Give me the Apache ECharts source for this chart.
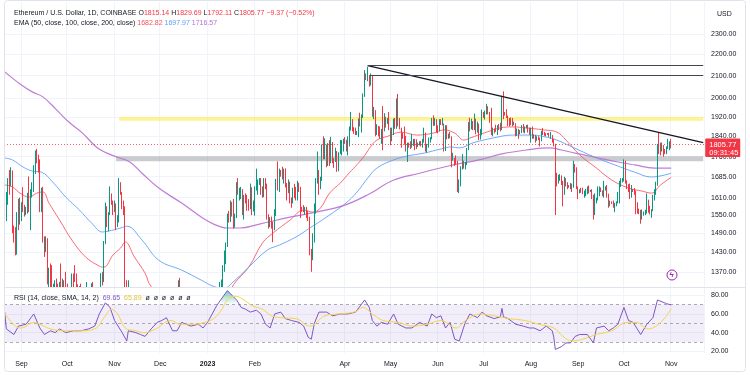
<!DOCTYPE html>
<html><head><meta charset="utf-8">
<script src="https://cdn.jsdelivr.net/npm/echarts@6/dist/echarts.min.js"></script>
<style>html,body{margin:0;padding:0;background:#fff}#c{width:750px;height:375px}</style>
</head><body><div id="c"></div>
<script>
// ---------- DATA ----------
const startDate = '2022-08-21';
const padDays = 21; // empty days to the right of the last candle
// daily candles [open, close, low, high] from 2022-08-21
const ohlc = [
[1577,1620,1560,1650],[1620,1624,1530,1630],[1624,1660,1585,1680],[1660,1657,1620,1710],[1657,1697,1650,1720],[1697,1507,1490,1708],[1507,1490,1460,1515],[1490,1425,1420,1510],[1425,1553,1422,1560],[1553,1524,1500,1606],[1524,1554,1518,1610],
[1554,1586,1530,1594],[1586,1577,1560,1647],[1577,1556,1545,1585],[1556,1577,1550,1578],[1577,1617,1555,1627],[1617,1562,1560,1686],[1562,1629,1500,1640],[1629,1636,1610,1665],[1636,1719,1630,1728],[1719,1775,1695,1784],
[1775,1761,1735,1790],[1761,1715,1700,1768],[1715,1573,1560,1750],[1573,1636,1560,1645],[1636,1472,1460,1648],[1472,1432,1415,1480],[1432,1471,1430,1480],[1471,1336,1333,1474],[1336,1377,1280,1382],[1377,1324,1320,1395],
[1324,1252,1220,1390],[1252,1328,1245,1335],[1328,1329,1275,1345],[1329,1316,1310,1350],[1316,1294,1280,1335],[1294,1336,1285,1340],[1336,1330,1310,1395],[1330,1337,1270,1350],[1337,1335,1300,1345],[1335,1328,1320,1370],
[1328,1311,1305,1335],[1311,1276,1270,1320],[1276,1323,1270,1324],[1323,1362,1320,1365],[1362,1352,1325,1365],[1352,1351,1340,1390],[1351,1330,1320,1365],[1330,1315,1310,1333],[1315,1322,1310,1328],[1322,1292,1280,1335],
[1292,1280,1270,1300],[1280,1295,1275,1300],[1295,1289,1190,1303],[1289,1297,1290,1340],[1297,1275,1270,1300],[1275,1306,1273,1310],[1306,1331,1300,1336],[1331,1310,1290,1340],[1310,1286,1280,1315],[1286,1282,1275,1313],
[1282,1300,1255,1305],[1300,1314,1296,1317],[1314,1364,1310,1366],[1364,1344,1330,1370],[1344,1460,1340,1465],[1460,1565,1455,1593],[1565,1515,1510,1580],[1515,1555,1496,1560],[1555,1622,1550,1650],[1622,1590,1585,1625],[1590,1572,1550,1600],
[1572,1579,1560,1600],[1579,1519,1500,1590],[1519,1531,1510,1550],[1531,1645,1525,1680],[1645,1627,1620,1665],[1627,1572,1570,1630],[1572,1567,1550,1600],[1567,1334,1230,1580],[1334,1100,1075,1345],[1100,1300,1090,1345],
[1300,1285,1214,1300],[1285,1257,1250,1290],[1257,1220,1210,1270],[1220,1242,1170,1290],[1242,1252,1235,1280],[1252,1215,1200,1260],[1215,1200,1190,1225],[1200,1212,1200,1225],[1212,1219,1205,1225],[1219,1142,1140,1225],
[1142,1108,1075,1145],[1108,1134,1090,1136],[1134,1184,1130,1190],[1184,1204,1180,1215],[1204,1199,1180,1205],[1199,1204,1195,1230],[1204,1195,1190,1225],[1195,1171,1160,1200],[1171,1217,1165,1230],[1217,1296,1215,1300],
[1296,1276,1270,1310],[1276,1294,1265,1300],[1294,1241,1240,1297],[1241,1280,1240,1283],[1280,1259,1255,1300],[1259,1270,1250,1275],[1270,1232,1220,1272],[1232,1281,1230,1285],[1281,1265,1262,1291],[1265,1266,1260,1275],
[1266,1263,1260,1285],[1263,1274,1245,1275],[1274,1318,1258,1345],[1318,1308,1300,1352],[1308,1266,1260,1313],[1266,1167,1160,1278],[1167,1186,1165,1190],[1186,1186,1175,1195],[1186,1167,1160,1196],[1167,1216,1165,1230],
[1216,1210,1205,1220],[1210,1219,1195,1222],[1219,1219,1213,1226],[1219,1220,1216,1224],[1220,1218,1212,1224],[1218,1226,1214,1228],[1226,1212,1205,1235],[1212,1190,1185,1214],[1190,1200,1185,1205],[1200,1198,1190,1202],[1198,1196,1193,1208],
[1196,1200,1192,1203],[1200,1214,1195,1222],[1214,1214,1208,1220],[1214,1256,1212,1270],[1256,1251,1245,1260],[1251,1269,1240,1275],[1269,1264,1262,1272],[1264,1289,1262,1290],[1289,1322,1288,1340],[1322,1336,1314,1347],
[1336,1384,1318,1390],[1384,1417,1370,1435],[1417,1451,1393,1460],[1451,1551,1446,1555],[1551,1550,1525,1564],[1550,1576,1527,1600],[1576,1567,1545,1595],[1567,1513,1505,1605],[1513,1551,1508,1555],[1551,1658,1540,1665],
[1658,1627,1620,1680],[1627,1628,1600,1645],[1628,1628,1605,1648],[1628,1556,1550,1640],[1556,1612,1535,1620],[1612,1603,1590,1625],[1603,1597,1565,1620],[1597,1572,1565,1605],[1572,1645,1570,1660],[1645,1566,1550,1647],[1566,1585,1562,1600],
[1585,1642,1548,1650],[1642,1642,1635,1715],[1642,1665,1620,1675],[1665,1670,1655,1680],[1670,1630,1620,1680],[1630,1616,1610,1650],[1616,1674,1612,1680],[1674,1652,1640,1680],[1652,1545,1535,1660],[1545,1514,1505,1553],
[1514,1540,1510,1543],[1540,1516,1505,1545],[1516,1507,1461,1528],[1507,1557,1500,1570],[1557,1674,1547,1677],[1674,1640,1635,1742],[1640,1693,1630,1715],[1693,1691,1685,1710],[1691,1680,1675,1722],[1680,1702,1660,1715],
[1702,1659,1646,1716],[1659,1641,1600,1662],[1641,1648,1626,1675],[1648,1608,1590,1667],[1608,1595,1575,1611],[1595,1640,1590,1645],[1640,1634,1608,1659],[1634,1605,1600,1648],
[1605,1662,1600,1670],[1662,1647,1630,1663],[1647,1569,1540,1648],[1569,1566,1561,1578],[1566,1564,1560,1584],[1564,1565,1552,1578],[1565,1561,1540,1578],[1561,1533,1530,1565],[1533,1436,1420,1545],[1436,1430,1370,1440],
[1430,1475,1405,1490],[1475,1588,1460,1590],[1588,1677,1555,1680],[1677,1702,1660,1780],[1702,1655,1620,1710],[1655,1677,1640,1685],[1677,1795,1670,1808],[1795,1757,1750,1840],[1757,1786,1750,1832],[1786,1735,1720,1807],
[1735,1807,1725,1813],[1807,1740,1725,1825],[1740,1816,1735,1838],[1816,1748,1735,1817],[1748,1744,1718,1755],[1744,1775,1740,1795],[1775,1714,1703,1782],[1714,1771,1705,1777],[1771,1792,1770,1825],[1792,1793,1765,1825],[1793,1821,1780,1830],
[1821,1820,1810,1837],[1820,1794,1780,1826],[1794,1810,1765,1840],[1810,1869,1800,1880],[1869,1907,1863,1940],[1907,1872,1860,1910],[1872,1864,1850,1877],[1864,1849,1845,1875],[1849,1861,1845,1862],[1861,1910,1837,1913],
[1910,1892,1880,1937],[1892,1920,1855,1930],[1920,2010,1915,2020],[2010,2098,2005,2125],[2098,2092,2080,2110],[2092,2093,2075,2141],[2093,2076,2050,2098],[2076,2101,2055,2110],[2101,1937,1920,2103],[1937,1943,1910,1962],
[1943,1850,1840,1948],[1850,1873,1845,1889],[1873,1865,1840,1882],[1865,1846,1830,1880],[1846,1866,1810,1870],[1866,1864,1785,1965],[1864,1910,1860,1935],[1910,1892,1875,1920],[1892,1905,1890,1915],[1905,1870,1865,1940],
[1870,1830,1805,1875],[1830,1871,1820,1875],[1871,1909,1845,1912],[1909,1877,1870,1915],[1877,1992,1870,1998],[1992,1895,1880,2018],[1895,1872,1868,1915],[1872,1850,1795,1875],[1850,1845,1830,1855],[1845,1838,1807,1880],
[1838,1796,1780,1842],[1796,1809,1740,1815],[1809,1800,1795,1815],[1800,1798,1790,1820],[1798,1821,1795,1850],[1821,1824,1802,1830],[1824,1822,1785,1830],[1822,1802,1790,1828],[1802,1810,1798,1815],[1810,1817,1804,1820],
[1817,1806,1800,1822],[1806,1818,1795,1830],[1818,1853,1815,1875],[1853,1800,1780,1855],[1800,1807,1775,1810],[1807,1828,1795,1835],[1828,1830,1815,1837],[1830,1910,1828,1915],[1910,1891,1882,1926],[1891,1901,1883,1915],[1901,1872,1855,1910],
[1872,1864,1852,1885],[1864,1906,1860,1910],[1906,1891,1886,1910],[1891,1891,1884,1915],[1891,1810,1780,1892],[1810,1880,1782,1885],[1880,1833,1828,1885],[1833,1847,1830,1851],[1847,1839,1832,1858],[1839,1752,1720,1840],
[1752,1753,1745,1775],[1753,1742,1725,1755],[1742,1739,1730,1765],[1739,1650,1630,1745],[1650,1666,1626,1675],[1666,1718,1650,1724],[1718,1725,1712,1770],[1725,1719,1715,1745],[1719,1734,1712,1740],[1734,1790,1728,1794],
[1790,1890,1785,1898],[1890,1874,1860,1916],[1874,1895,1868,1912],[1895,1875,1865,1902],[1875,1906,1865,1933],[1906,1860,1848,1912],[1860,1889,1855,1900],[1889,1829,1825,1892],[1829,1851,1827,1870],[1851,1934,1844,1950],
[1934,1923,1915,1940],[1923,1938,1908,1946],[1938,1955,1930,1975],[1955,1938,1930,1965],[1938,1910,1895,1940],[1910,1850,1845,1958],[1850,1869,1840,1875],[1869,1866,1852,1872],[1866,1862,1858,1887],[1862,1880,1845,1885],
[1880,1878,1865,1890],[1878,1870,1860,1895],[1870,2002,1865,2010],[2002,1938,1910,2029],[1938,1935,1925,1940],[1935,1921,1915,1952],[1921,1911,1882,1925],[1911,1894,1880,1915],[1894,1893,1885,1917],[1893,1890,1880,1915],
[1890,1892,1885,1900],[1892,1845,1840,1893],[1845,1869,1842,1872],[1869,1849,1830,1870],[1849,1858,1848,1865],[1858,1870,1853,1885],[1870,1860,1855,1890],[1860,1874,1852,1880],[1874,1880,1872,1886],[1880,1862,1855,1887],[1862,1857,1846,1875],
[1857,1869,1815,1875],[1869,1836,1830,1880],[1836,1836,1831,1848],[1836,1828,1815,1845],[1828,1836,1822,1840],[1836,1828,1825,1840],[1828,1825,1800,1835],[1825,1855,1820,1862],[1855,1853,1845,1873],[1853,1850,1842,1858],
[1850,1849,1840,1853],[1849,1850,1846,1853],[1850,1840,1838,1854],[1840,1841,1830,1858],[1841,1826,1815,1845],[1826,1806,1800,1830],[1806,1685,1550,1810],[1685,1666,1650,1700],[1666,1680,1660,1692],[1680,1688,1670,1695],
[1688,1667,1655,1690],[1667,1623,1580,1670],[1623,1676,1620,1685],[1676,1661,1650,1680],[1661,1652,1640,1665],[1652,1647,1645,1655],[1647,1658,1640,1662],[1658,1652,1630,1660],[1652,1730,1645,1745],[1730,1705,1700,1732],[1705,1646,1640,1720],
[1646,1628,1605,1650],[1628,1636,1625,1640],[1636,1634,1627,1645],[1634,1628,1622,1645],[1628,1631,1610,1635],[1631,1634,1615,1641],[1634,1646,1622,1650],[1646,1635,1625,1653],[1635,1635,1630,1637],[1635,1620,1605,1640],
[1620,1551,1535,1620],[1551,1592,1550,1625],[1592,1607,1590,1610],[1607,1627,1600,1650],[1627,1641,1615,1650],[1641,1636,1630,1646],[1636,1622,1615,1636],[1622,1640,1610,1670],[1640,1644,1635,1650],[1644,1622,1610,1655],
[1622,1583,1575,1624],[1583,1593,1580,1600],[1593,1592,1588,1597],[1592,1581,1575,1600],[1581,1586,1560,1592],[1586,1594,1580,1597],[1594,1597,1590,1630],[1597,1652,1590,1670],[1652,1668,1648,1680],[1668,1671,1664,1680],
[1671,1733,1668,1750],[1733,1664,1660,1745],[1664,1654,1640,1672],[1654,1647,1630,1658],[1647,1612,1605,1660],[1612,1645,1610,1655],[1645,1634,1630,1640],[1634,1633,1620,1644],[1633,1580,1553,1635],[1580,1567,1555,1594],
[1567,1566,1553,1572],[1566,1539,1521,1568],[1539,1553,1535,1569],[1553,1556,1548,1562],[1556,1557,1550,1568],[1557,1601,1555,1625],[1601,1565,1558,1603],[1565,1564,1552,1582],[1564,1567,1541,1570],[1567,1604,1563,1620],
[1604,1629,1600,1640],[1629,1664,1620,1667],[1664,1796,1652,1810],[1796,1787,1770,1855],[1787,1785,1765,1815],[1785,1803,1780,1815],[1803,1782,1760,1805],[1782,1777,1770,1790],[1777,1794,1770,1800],[1794,1815,1790,1830],[1815,1815,1785,1820],
[1815.14,1805.77,1792.11,1829.69]
];
const ema50 = [['2022-08-21',1655],['2022-08-26',1648],['2022-08-31',1626],['2022-09-06',1612],['2022-09-11',1626],['2022-09-15',1630],['2022-09-19',1591],['2022-09-26',1533],['2022-10-04',1468],['2022-10-13',1415],['2022-10-22',1387],['2022-10-25',1384],['2022-10-31',1421],['2022-11-05',1443],['2022-11-08',1462],['2022-11-14',1415],['2022-11-21',1366],['2022-11-25',1327],['2022-12-10',1275],['2022-12-31',1240],['2023-01-10',1265],['2023-01-18',1332],['2023-01-28',1384],['2023-02-06',1459],['2023-02-13',1491],['2023-02-24',1533],['2023-03-05',1567],['2023-03-11',1560],['2023-03-16',1574],['2023-03-22',1626],['2023-03-29',1662],['2023-04-04',1700],['2023-04-09',1730],['2023-04-14',1765],['2023-04-18',1800],['2023-04-22',1825],['2023-04-29',1840],['2023-05-08',1857],['2023-05-18',1845],['2023-05-29',1853],['2023-06-05',1866],['2023-06-12',1853],['2023-06-18',1825],['2023-06-22',1833],['2023-07-03',1857],['2023-07-12',1874],['2023-07-20',1878],['2023-07-29',1874],['2023-08-09',1866],['2023-08-18',1857],['2023-08-24',1825],['2023-09-02',1767],['2023-09-13',1717],['2023-09-23',1673],['2023-10-04',1644],['2023-10-13',1633],['2023-10-19',1626],['2023-10-25',1655],['2023-11-01',1682.82]];
const ema100 = [['2022-08-21',1755],['2022-08-26',1748],['2022-09-02',1721],['2022-09-08',1706],['2022-09-14',1702],['2022-09-22',1662],['2022-09-30',1612],['2022-10-09',1567],['2022-10-17',1523],['2022-10-24',1494],['2022-10-28',1497],['2022-11-05',1507],['2022-11-09',1513],['2022-11-19',1468],['2022-11-30',1405],['2022-12-15',1375],['2022-12-28',1345],['2023-01-05',1327],['2023-01-12',1322],['2023-01-17',1337],['2023-01-28',1384],['2023-02-09',1436],['2023-02-17',1452],['2023-02-28',1478],['2023-03-09',1507],['2023-03-17',1533],['2023-04-01',1588],['2023-04-09',1630],['2023-04-16',1680],['2023-04-22',1717],['2023-05-03',1748],['2023-05-12',1763],['2023-05-23',1774],['2023-06-03',1790],['2023-06-10',1798],['2023-06-15',1794],['2023-06-24',1814],['2023-07-07',1833],['2023-07-20',1845],['2023-08-02',1845],['2023-08-11',1837],['2023-08-18',1825],['2023-08-28',1798],['2023-09-12',1758],['2023-09-25',1729],['2023-10-08',1702],['2023-10-19',1684],['2023-11-01',1697.97]];
const ema200 = [['2022-08-21',2117],['2022-08-31',2062],['2022-09-08',2027],['2022-09-15',2005],['2022-09-24',1949],['2022-10-02',1898],['2022-10-11',1853],['2022-10-20',1798],['2022-10-27',1774],['2022-11-03',1758],['2022-11-11',1740],['2022-11-19',1698],['2022-11-30',1644],['2022-12-15',1591],['2022-12-28',1543],['2023-01-05',1520],['2023-01-14',1507],['2023-01-22',1507],['2023-02-04',1520],['2023-02-24',1543],['2023-03-13',1560],['2023-04-01',1584],['2023-04-17',1623],['2023-05-03',1673],['2023-05-20',1698],['2023-06-08',1725],['2023-06-28',1748],['2023-07-13',1771],['2023-07-29',1786],['2023-08-13',1794],['2023-08-21',1786],['2023-08-30',1774],['2023-09-12',1758],['2023-09-27',1740],['2023-10-08',1729],['2023-10-21',1717],['2023-11-01',1716.57]];
const rsi = [['2022-08-21',62],['2022-08-22',44],['2022-08-27',38],['2022-08-30',47],['2022-09-04',49],['2022-09-09',60],['2022-09-13',45],['2022-09-16',38],['2022-09-20',42],['2022-09-23',40],['2022-09-26',44],['2022-09-30',40],['2022-10-05',42],['2022-10-10',42],['2022-10-15',44],['2022-10-19',47],['2022-10-22',60],['2022-10-26',72],['2022-10-29',67],['2022-11-01',53],['2022-11-06',40],['2022-11-09',31],['2022-11-10',42],['2022-11-15',40],['2022-11-18',38],['2022-11-21',36],['2022-11-25',44],['2022-11-29',51],['2022-12-02',53],['2022-12-05',56],['2022-12-09',42],['2022-12-12',42],['2022-12-15',51],['2022-12-18',49],['2022-12-21',47],['2022-12-26',49],['2022-12-29',45],['2023-01-01',51],['2023-01-04',60],['2023-01-07',69],['2023-01-10',76],['2023-01-14',85],['2023-01-17',80],['2023-01-20',75],['2023-01-23',67],['2023-01-26',65],['2023-01-29',62],['2023-02-02',64],['2023-02-05',60],['2023-02-08',49],['2023-02-11',45],['2023-02-14',60],['2023-02-18',62],['2023-02-21',55],['2023-02-25',53],['2023-03-02',51],['2023-03-05',47],['2023-03-08',35],['2023-03-10',33],['2023-03-12',50],['2023-03-15',62],['2023-03-20',62],['2023-03-24',58],['2023-03-29',60],['2023-04-03',60],['2023-04-08',62],['2023-04-14',75],['2023-04-17',67],['2023-04-19',53],['2023-04-22',47],['2023-04-25',51],['2023-04-29',49],['2023-05-03',60],['2023-05-06',49],['2023-05-11',45],['2023-05-15',45],['2023-05-20',51],['2023-05-25',47],['2023-05-28',60],['2023-05-31',56],['2023-06-03',58],['2023-06-06',45],['2023-06-09',51],['2023-06-12',33],['2023-06-15',31],['2023-06-19',51],['2023-06-22',60],['2023-06-27',56],['2023-06-30',62],['2023-07-03',58],['2023-07-08',55],['2023-07-12',57],['2023-07-13',66],['2023-07-14',57],['2023-07-17',55],['2023-07-22',49],['2023-07-27',47],['2023-07-31',45],['2023-08-03',45],['2023-08-07',42],['2023-08-11',47],['2023-08-15',42],['2023-08-16',35],['2023-08-17',22],['2023-08-21',25],['2023-08-24',29],['2023-08-27',29],['2023-08-30',36],['2023-09-02',38],['2023-09-07',38],['2023-09-11',29],['2023-09-13',45],['2023-09-18',47],['2023-09-21',42],['2023-09-24',45],['2023-09-27',49],['2023-10-01',67],['2023-10-04',53],['2023-10-07',51],['2023-10-12',38],['2023-10-16',49],['2023-10-20',56],['2023-10-23',75],['2023-10-26',73],['2023-10-29',71],['2023-11-01',69.65]];
const rsiSma = [['2022-08-21',60],['2022-08-29',46],['2022-09-01',45],['2022-09-09',51],['2022-09-13',49],['2022-09-20',44],['2022-09-29',42],['2022-10-10',42],['2022-10-19',44],['2022-10-26',58],['2022-10-30',65],['2022-11-03',60],['2022-11-08',45],['2022-11-15',42],['2022-11-21',40],['2022-11-28',44],['2022-12-08',53],['2022-12-14',49],['2022-12-24',49],['2022-12-30',51],['2023-01-05',55],['2023-01-10',64],['2023-01-14',75],['2023-01-19',79],['2023-01-24',76],['2023-01-30',69],['2023-02-06',65],['2023-02-12',58],['2023-02-18',56],['2023-02-28',55],['2023-03-09',47],['2023-03-19',58],['2023-03-28',60],['2023-04-07',62],['2023-04-13',67],['2023-04-19',60],['2023-04-26',53],['2023-05-06',51],['2023-05-15',47],['2023-05-25',49],['2023-06-03',53],['2023-06-13',45],['2023-06-19',53],['2023-06-29',60],['2023-07-08',58],['2023-07-18',55],['2023-07-28',53],['2023-08-06',49],['2023-08-16',45],['2023-08-22',36],['2023-08-28',31],['2023-09-04',33],['2023-09-13',38],['2023-09-23',42],['2023-10-03',51],['2023-10-09',51],['2023-10-17',44],['2023-10-22',47],['2023-10-28',56],['2023-11-01',65.89]];
const priceTicks = [1370,1430,1490,1550,1610,1685,1760,1840,1920,2000,2100,2200,2300];
const rsiTicks = [20,40,60,80];
const rsiLevels = [70,50,30];
const overboughtSpan = ['2023-01-10','2023-01-20'];
const yellowZone = ['2022-11-04', 1903, 1919];
const grayZone = ['2022-11-02', 1743, 1762];
const trendLine = [['2023-04-16',2146],['2023-11-22',1815]];
const hLines = [['2023-04-16',2146],['2023-04-17',2103]];
const lastPrice = 1805.77;
const countdown = '09:31:45';
const priceRange = [1325.4, 2465];
const rsiRange = [18.2, 87.8];
const monthNames = ['Jan','Feb','Mar','Apr','May','Jun','Jul','Aug','Sep','Oct','Nov','Dec'];

// ---------- BUILD ----------
const dates = [];
{ const d0 = new Date(startDate + 'T00:00:00Z');
  for (let i = 0; i < ohlc.length + padDays; i++) {
    dates.push(new Date(d0.getTime() + i * 86400000).toISOString().slice(0, 10));
  } }
const endDate = dates[dates.length - 1];
const L = Math.log;
const lnPairs = arr => arr.map(([d, v]) => [d, L(v)]);
const isMonthStart = (i, v) => v.slice(8) === '01';
const FONT = 'Liberation Sans, Arial, sans-serif';
const TXT = '#131722';

const chart = echarts.init(document.getElementById('c'), null, {renderer: 'canvas'});
const xBase = (gi, showLabel) => ({
  type: 'category', gridIndex: gi, data: dates, boundaryGap: true, z: gi ? 4 : 0,
  axisLine: {show: false}, axisTick: {show: false},
  axisLabel: {show: showLabel, interval: isMonthStart, fontSize: 7, color: TXT, fontFamily: FONT, margin: 8,
    formatter: v => { const m = +v.slice(5, 7); if (m === 3) return ''; return m === 1 ? '{b|' + v.slice(0, 4) + '}' : monthNames[m - 1]; },
    rich: {b: {fontWeight: 'bold', fontSize: 7, color: TXT, fontFamily: FONT}}},
  splitLine: {show: true, interval: isMonthStart, lineStyle: {color: '#f0f3fa', width: 1}}
});

const option = {
  animation: false,
  backgroundColor: '#ffffff',
  title: [
    {left: 9, top: 5, text: 'Ethereum / U.S. Dollar, 1D, COINBASE O{r|1815.14} H{r|1829.69} L{r|1792.11} C{r|1805.77} {r|−9.37 (−0.52%)}',
     textStyle: {fontSize: 7, fontWeight: 'normal', color: TXT, fontFamily: FONT, rich: {r: {color: '#f23645', fontSize: 7, fontFamily: FONT}}}},
    {left: 9, top: 15, text: 'EMA (50, close, 100, close, 200, close) {a|1682.82} {b|1697.97} {c|1716.57}',
     textStyle: {fontSize: 7, fontWeight: 'normal', color: TXT, fontFamily: FONT, rich: {a: {color: '#f7525f', fontSize: 7, fontFamily: FONT}, b: {color: '#5b9cf6', fontSize: 7, fontFamily: FONT}, c: {color: '#b86fd1', fontSize: 7, fontFamily: FONT}}}},
    {left: 9, top: 290, text: 'RSI (14, close, SMA, 14, 2)  {a|69.65}  {b|65.89}  {c|ø  ø  ø  ø  ø  ø}',
     textStyle: {fontSize: 7, fontWeight: 'normal', color: TXT, fontFamily: FONT, rich: {a: {color: '#7e57c2', fontSize: 7, fontFamily: FONT}, b: {color: '#e0c43a', fontSize: 7, fontFamily: FONT}, c: {color: '#131722', fontSize: 7, fontFamily: FONT}}}},
    {left: 712, top: 6, text: 'USD', textStyle: {fontSize: 7, fontWeight: 'normal', color: TXT, fontFamily: FONT}}
  ],
  grid: [
    {left: 4, right: 46, top: 2, height: 285},
    {left: 4, right: 46, top: 288, height: 65}
  ],
  xAxis: [xBase(0, false), xBase(1, true)],
  yAxis: [
    {type: 'value', gridIndex: 0, position: 'right', min: L(priceRange[0]), max: L(priceRange[1]),
     axisLine: {show: false}, axisTick: {show: false, customValues: priceTicks.map(L)},
     axisLabel: {customValues: priceTicks.map(L), formatter: v => Math.exp(v).toFixed(2), fontSize: 7, color: TXT, fontFamily: FONT, margin: 7},
     splitLine: {show: true, lineStyle: {color: '#f0f3fa'}}},
    {type: 'value', gridIndex: 1, position: 'right', min: rsiRange[0], max: rsiRange[1], z: 4,
     axisLine: {show: false}, axisTick: {show: false, customValues: rsiTicks},
     axisLabel: {customValues: rsiTicks, formatter: v => v.toFixed(2), fontSize: 7, color: TXT, fontFamily: FONT, margin: 7},
     splitLine: {show: true, lineStyle: {color: '#f0f3fa'}}}
  ],
  series: [
    {type: 'candlestick', name: 'ETHUSD', xAxisIndex: 0, yAxisIndex: 0, clip: true, barWidth: 1, z: 2,
     data: ohlc.map(r => r.map(L)),
     itemStyle: {color: '#089981', color0: '#f23645', borderColor: '#089981', borderColor0: '#f23645', borderWidth: 1},
     markArea: {silent: true, data: [
       [{xAxis: yellowZone[0], yAxis: L(yellowZone[1]), itemStyle: {color: 'rgba(255,235,59,0.55)'}}, {xAxis: endDate, yAxis: L(yellowZone[2])}],
       [{xAxis: grayZone[0], yAxis: L(grayZone[1]), itemStyle: {color: 'rgba(150,152,160,0.5)'}}, {xAxis: endDate, yAxis: L(grayZone[2])}]
     ]},
     markLine: {silent: true, symbol: 'none', animation: false, data: [
       {yAxis: L(lastPrice), lineStyle: {color: '#f23645', type: [1, 2], width: 1, opacity: 0.8}, label: {show: false}},
       [{coord: [trendLine[0][0], L(trendLine[0][1])], lineStyle: {color: '#131722', width: 1.3, type: 'solid'}, label: {show: false}}, {coord: [trendLine[1][0], L(trendLine[1][1])]}],
       [{coord: [hLines[0][0], L(hLines[0][1])], lineStyle: {color: '#434651', width: 1, type: 'solid'}, label: {show: false}}, {coord: [endDate, L(hLines[0][1])]}],
       [{coord: [hLines[1][0], L(hLines[1][1])], lineStyle: {color: '#434651', width: 1, type: 'solid'}, label: {show: false}}, {coord: [endDate, L(hLines[1][1])]}]
     ]}},
    {type: 'line', name: 'EMA50', xAxisIndex: 0, yAxisIndex: 0, z: 2, data: lnPairs(ema50), smooth: 0.4, showSymbol: false, clip: true, lineStyle: {color: '#f7525f', width: 1, opacity: 0.85}},
    {type: 'line', name: 'EMA100', xAxisIndex: 0, yAxisIndex: 0, z: 2, data: lnPairs(ema100), smooth: 0.4, showSymbol: false, clip: true, lineStyle: {color: '#5b9cf6', width: 1, opacity: 0.85}},
    {type: 'line', name: 'EMA200', xAxisIndex: 0, yAxisIndex: 0, z: 2, data: lnPairs(ema200), smooth: 0.4, showSymbol: false, clip: true, lineStyle: {color: '#b86fd1', width: 1.2, opacity: 0.9}},
    {type: 'line', name: 'RSI overbought', xAxisIndex: 1, yAxisIndex: 1, z: 4,
     data: rsi.filter(([d]) => d >= overboughtSpan[0] && d <= overboughtSpan[1]), showSymbol: false, clip: true,
     lineStyle: {width: 0}, areaStyle: {origin: rsiLevels[0], color: new echarts.graphic.LinearGradient(0, 0, 0, 1, [{offset: 0, color: 'rgba(8,153,129,0.75)'}, {offset: 1, color: 'rgba(8,153,129,0)'}])}},
    {type: 'line', name: 'RSI', xAxisIndex: 1, yAxisIndex: 1, z: 5, data: rsi, showSymbol: false, clip: true, lineStyle: {color: '#7e57c2', width: 1},
     markArea: {silent: true, z: 4, data: [[{yAxis: rsiLevels[2], itemStyle: {color: 'rgba(126,87,194,0.1)'}}, {yAxis: rsiLevels[0]}]]},
     markLine: {silent: true, z: 4, symbol: 'none', label: {show: false}, lineStyle: {color: '#9598a1', type: [3, 3], width: 1, opacity: 0.8},
       data: rsiLevels.map(v => ({yAxis: v}))}},
    {type: 'line', name: 'RSI SMA', xAxisIndex: 1, yAxisIndex: 1, z: 5, data: rsiSma, smooth: 0.4, showSymbol: false, clip: true, lineStyle: {color: '#f5d547', width: 1}}
  ],
  graphic: {elements: [
    // white backdrop of the lower pane (hides candle parts falling below the price pane)
    {id: 'cover', type: 'rect', z: 3, shape: {x: 0, y: 288, width: 750, height: 87}, style: {fill: '#ffffff'}, silent: true},
    {id: 'sep', type: 'line', z: 6, shape: {x1: 4, y1: 287.5, x2: 745, y2: 287.5}, style: {stroke: '#e0e3eb', lineWidth: 1}, silent: true},
    {id: 'frame', type: 'rect', z: 6, shape: {x: 4.5, y: 0.5, width: 741, height: 371, r: 3}, style: {fill: 'none', stroke: '#e0e3eb', lineWidth: 1}, silent: true},
    {id: 'boltC', type: 'circle', z: 6, shape: {cx: 672, cy: 275, r: 5}, style: {fill: '#fff', stroke: '#9c27b0', lineWidth: 1}, silent: true},
    {id: 'boltT', type: 'text', z: 6, x: 669.5, y: 270.5, style: {text: 'ϟ', fill: '#9c27b0', font: 'bold 8px ' + FONT}, silent: true}
  ]}
};
chart.setOption(option);

// price tag on the right scale, placed at the last close through the axis scale
const py = chart.convertToPixel({yAxisIndex: 0}, L(lastPrice));
const gx = chart.convertToPixel({xAxisIndex: 0}, endDate) + 2;
chart.setOption({graphic: {elements: [
  {id: 'tagBox', type: 'rect', z: 7, shape: {x: gx, y: py - 6.5, width: 35, height: 18.5, r: 1}, style: {fill: '#f23645'}, silent: true},
  {id: 'tagP', type: 'text', z: 8, x: gx + 4, y: py, style: {text: lastPrice.toFixed(2), fill: '#fff', font: '7.5px ' + FONT, textVerticalAlign: 'middle', verticalAlign: 'middle'}, silent: true},
  {id: 'tagT', type: 'text', z: 8, x: gx + 4, y: py + 7.5, style: {text: countdown, fill: '#fff', font: '7.5px ' + FONT, textVerticalAlign: 'middle', verticalAlign: 'middle'}, silent: true}
]}});
</script>
</body></html>
